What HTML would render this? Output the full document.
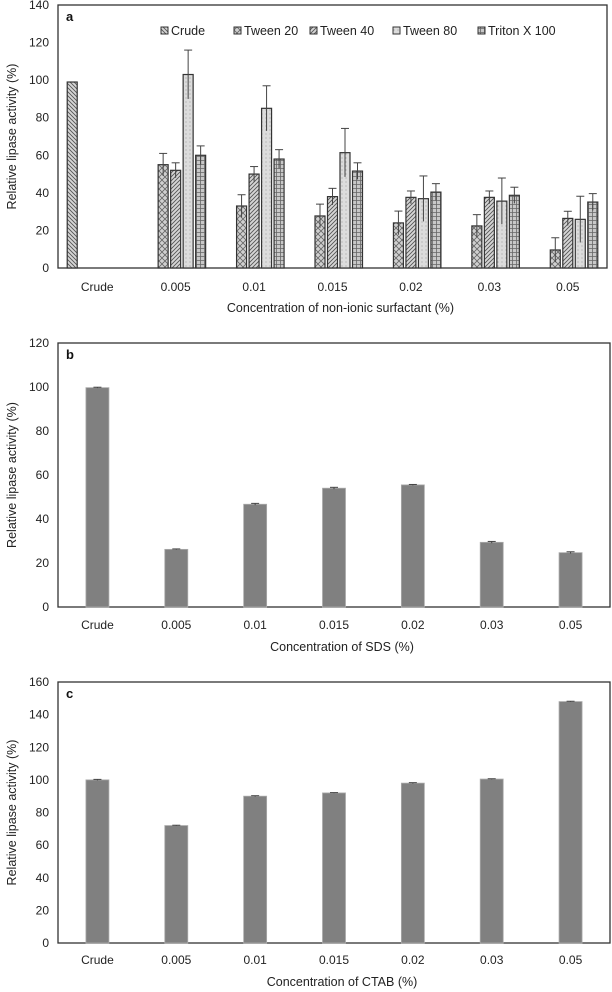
<!DOCTYPE html>
<html><head><meta charset="utf-8"><style>
body{margin:0;background:#fff;}
svg{display:block;font-family:"Liberation Sans",sans-serif;}
</style></head><body>
<svg id="fig" width="612" height="992" viewBox="0 0 612 992" xmlns="http://www.w3.org/2000/svg">
<defs>
<pattern id="pCrude" width="4" height="4" patternUnits="userSpaceOnUse"><rect width="4" height="4" fill="#d6d6d6"/><path d="M0,0 L4,4 M-1,3 L1,5 M3,-1 L5,1" stroke="#555" stroke-width="0.9"/></pattern>
<pattern id="pT20" width="6" height="6" patternUnits="userSpaceOnUse"><rect width="6" height="6" fill="#d0d0d0"/><path d="M0,0 L6,6 M6,0 L0,6" stroke="#666" stroke-width="0.8"/></pattern>
<pattern id="pT40" width="4" height="4" patternUnits="userSpaceOnUse"><rect width="4" height="4" fill="#d6d6d6"/><path d="M0,4 L4,0 M-1,1 L1,-1 M3,5 L5,3" stroke="#555" stroke-width="0.9"/></pattern>
<pattern id="pT80" width="4" height="4" patternUnits="userSpaceOnUse"><rect width="4" height="4" fill="#dcdcdc"/><rect x="1.5" y="1.5" width="1" height="1" fill="#999"/></pattern>
<pattern id="pTri" width="4" height="4" patternUnits="userSpaceOnUse"><rect width="4" height="4" fill="#c8c8c8"/><path d="M0,0.5 H4 M0.5,0 V4" stroke="#666" stroke-width="0.8"/></pattern>
</defs>
</svg>
<script>
const cats = ["Crude","0.005","0.01","0.015","0.02","0.03","0.05"];
const seriesNames = ["Crude","Tween 20","Tween 40","Tween 80","Triton X 100"];
const aCrude = [99, null, null, null, null, null, null];
const aT20 = [null, 55, 33, 27.7, 24, 22.4, 9.6];
const aT40 = [null, 52, 50, 38, 37.6, 37.6, 26.4];
const aT80 = [null, 103, 85, 61.4, 36.9, 35.6, 25.9];
const aTri = [null, 60, 58, 51.6, 40.4, 38.7, 35.1];
const aCrudeErr = [0, 0, 0, 0, 0, 0, 0];
const aT20Err = [0, 6, 6, 6.3, 6.3, 6, 6.5];
const aT40Err = [0, 4, 4, 4.4, 3.4, 3.4, 3.8];
const aT80Err = [0, 13, 12, 12.9, 12.1, 12.3, 12.3];
const aTriErr = [0, 5, 5, 4.4, 4.5, 4.3, 4.5];
const aTicks = [0,20,40,60,80,100,120,140];
const bVals = [99.7, 26.2, 46.7, 54, 55.5, 29.4, 24.7];
const bErr = [0.2, 0.2, 0.4, 0.4, 0.2, 0.4, 0.4];
const bTicks = [0,20,40,60,80,100,120];
const cVals = [100, 72, 90, 92, 98, 100.5, 148];
const cErr = [0.3, 0.2, 0.3, 0.2, 0.3, 0.2, 0.2];
const cTicks = [0,20,40,60,80,100,120,140,160];

const NS="http://www.w3.org/2000/svg";
const svg=document.getElementById('fig');
function mk(tag,attrs,parent){const e=document.createElementNS(NS,tag);for(const k in attrs)e.setAttribute(k,attrs[k]);(parent||svg).appendChild(e);return e;}
function txt(x,y,s,attrs,parent){const t=mk('text',Object.assign({x:x,y:y,'font-size':12,fill:'#222'},attrs||{}),parent);t.textContent=s;return t;}

function panel(o){
  const g=mk('g',{});
  
  
  const x0=o.left,x1=o.right,yTop=o.top,yBot=o.bottom,max=o.ticks[o.ticks.length-1];
  const y=v=>yBot-(v/max)*(yBot-yTop);
  const bw=(x1-x0)/cats.length;
  const cx=i=>x0+bw*(i+0.5);
  const frame=mk('rect',{x:x0,y:yTop,width:x1-x0,height:yBot-yTop,fill:'none',stroke:'#333','stroke-width':1.3},g);
  
  
  o.ticks.forEach(t=>{
    const l=txt(x0-9,y(t)+4,String(t),{'text-anchor':'end'},g);
    
    
  });
  cats.forEach((c,i)=>{
    const l=txt(cx(i),o.labelY,c,{'text-anchor':'middle'},g);
    
    
  });
  const xt=txt((x0+x1)/2+8,o.titleY,o.xTitle,{'text-anchor':'middle','font-size':12.5},g);
  
  
  const ym=(yTop+yBot)/2;
  const yt=txt(16,ym,'Relative lipase activity (%)',{'text-anchor':'middle',transform:'rotate(-90 16 '+ym+')','font-size':12.5},g);
  
  
  const lt=txt(x0+8,yTop+16,o.letter,{'font-weight':'bold','font-size':13,fill:'#111'},g);
  
  
  return {g,y,cx,bw};
}
function errbar(g,x,v,e,y,cap,name){
  if(!e) return;
  const eg=mk('g',{stroke:'#444','stroke-width':1},g);
  
  
  mk('line',{x1:x,x2:x,y1:y(v-e),y2:y(v+e)},eg);
  mk('line',{x1:x-cap,x2:x+cap,y1:y(v+e),y2:y(v+e)},eg);
}

// Panel a
(function(){
  const p=panel({letter:'a',left:58,right:607,top:5,bottom:268,ticks:aTicks,labelY:291,titleY:312,xTitle:'Concentration of non-ionic surfactant (%)'});
  const series=[aCrude,aT20,aT40,aT80,aTri];
  const errs=[aCrudeErr,aT20Err,aT40Err,aT80Err,aTriErr];
  const fills=['url(#pCrude)','url(#pT20)','url(#pT40)','url(#pT80)','url(#pTri)'];
  const slot=12.5,w=10;
  series.forEach((s,si)=>{
    s.forEach((v,i)=>{
      if(v===null) return;
      const xc=p.cx(i)+(si-2)*slot;
      const r=mk('rect',{x:xc-w/2,y:p.y(v),width:w,height:p.y(0)-p.y(v),fill:fills[si],stroke:'#333','stroke-width':1.2},p.g);
      
      
      errbar(p.g,xc,v,errs[si][i],p.y,4,'error-bar-'+si+'-'+i);
    });
  });
  const lx=[165,238,314,397,482];
  seriesNames.forEach((n,i)=>{
    const lg=mk('g',{},p.g);
    
    
    mk('rect',{x:lx[i]-4,y:27,width:7,height:7,fill:fills[i],stroke:'#333','stroke-width':1},lg);
    txt(lx[i]+6,35,n,{'font-size':12.5},lg);
  });
})();

// Panel b
(function(){
  const p=panel({letter:'b',left:58,right:610,top:343,bottom:607,ticks:bTicks,labelY:629,titleY:651,xTitle:'Concentration of SDS (%)'});
  bVals.forEach((v,i)=>{
    const r=mk('rect',{x:p.cx(i)-11.5,y:p.y(v),width:23,height:p.y(0)-p.y(v),fill:'#808080',stroke:'#aaa','stroke-width':0.8},p.g);
    
    
    errbar(p.g,p.cx(i),v,bErr[i],p.y,4,'error-bar-sds-'+cats[i]);
  });
})();

// Panel c
(function(){
  const p=panel({letter:'c',left:58,right:610,top:682,bottom:943,ticks:cTicks,labelY:964,titleY:986,xTitle:'Concentration of CTAB (%)'});
  cVals.forEach((v,i)=>{
    const r=mk('rect',{x:p.cx(i)-11.5,y:p.y(v),width:23,height:p.y(0)-p.y(v),fill:'#808080',stroke:'#aaa','stroke-width':0.8},p.g);
    
    
    errbar(p.g,p.cx(i),v,cErr[i],p.y,4,'error-bar-ctab-'+cats[i]);
  });
})();
</script>
</body></html>
